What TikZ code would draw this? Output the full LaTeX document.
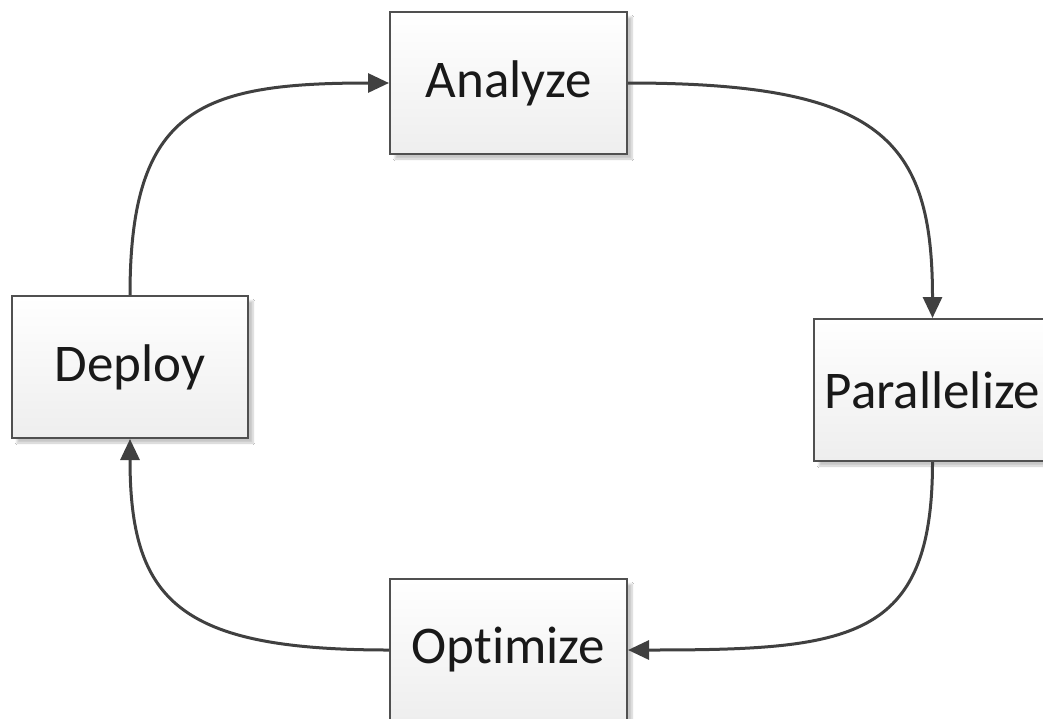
\documentclass[tikz,border=0pt]{standalone}
\usepackage{fontspec}
\setmainfont{Carlito}[Ligatures={NoCommon}]
\usetikzlibrary{arrows.meta,shadows.blur}
\definecolor{edge}{HTML}{404040}
\definecolor{boxline}{HTML}{505050}
\definecolor{boxbottom}{HTML}{EEEEEE}
\tikzset{
  stage/.style={
    draw=boxline, line width=2pt,
    top color=white, bottom color=boxbottom,
    minimum width=237pt, minimum height=142pt, inner sep=0pt,
    font=\fontsize{53}{60}\selectfont, text=black!90,
    blur shadow={shadow xshift=5pt, shadow yshift=-5pt,
                 shadow blur steps=6, shadow opacity=22}
  },
  flow/.style={
    draw=edge, line width=3pt,
    -{Triangle[length=21pt,width=19pt]}
  }
}
\begin{document}
\begin{tikzpicture}[x=1pt,y=-1pt]
  \clip (0,0) rectangle (1043,718);
  \fill[white] (0,0) rectangle (1043,718);

  % the four stages of the cycle
  \node[stage] (analyze)     at (508.5,83)  {Analyze};
  \node[stage] (parallelize) at (932.5,390) {Parallelize};
  \node[stage] (optimize)    at (508.5,650) {Optimize};
  \node[stage, minimum width=236pt] (deploy) at (130,367) {Deploy};

  % curved connectors, clockwise
  \draw[flow] (deploy.north) .. controls +(0,-186) and +(-190,0) .. (analyze.west);
  \draw[flow] (analyze.east) .. controls +(253,0) and +(0,-179) .. (parallelize.north);
  \draw[flow] (parallelize.south) .. controls +(0,179) and +(223,0) .. (optimize.east);
  \draw[flow] (optimize.west) .. controls +(-210,0) and +(0,162) .. (deploy.south);
\end{tikzpicture}
\end{document}
